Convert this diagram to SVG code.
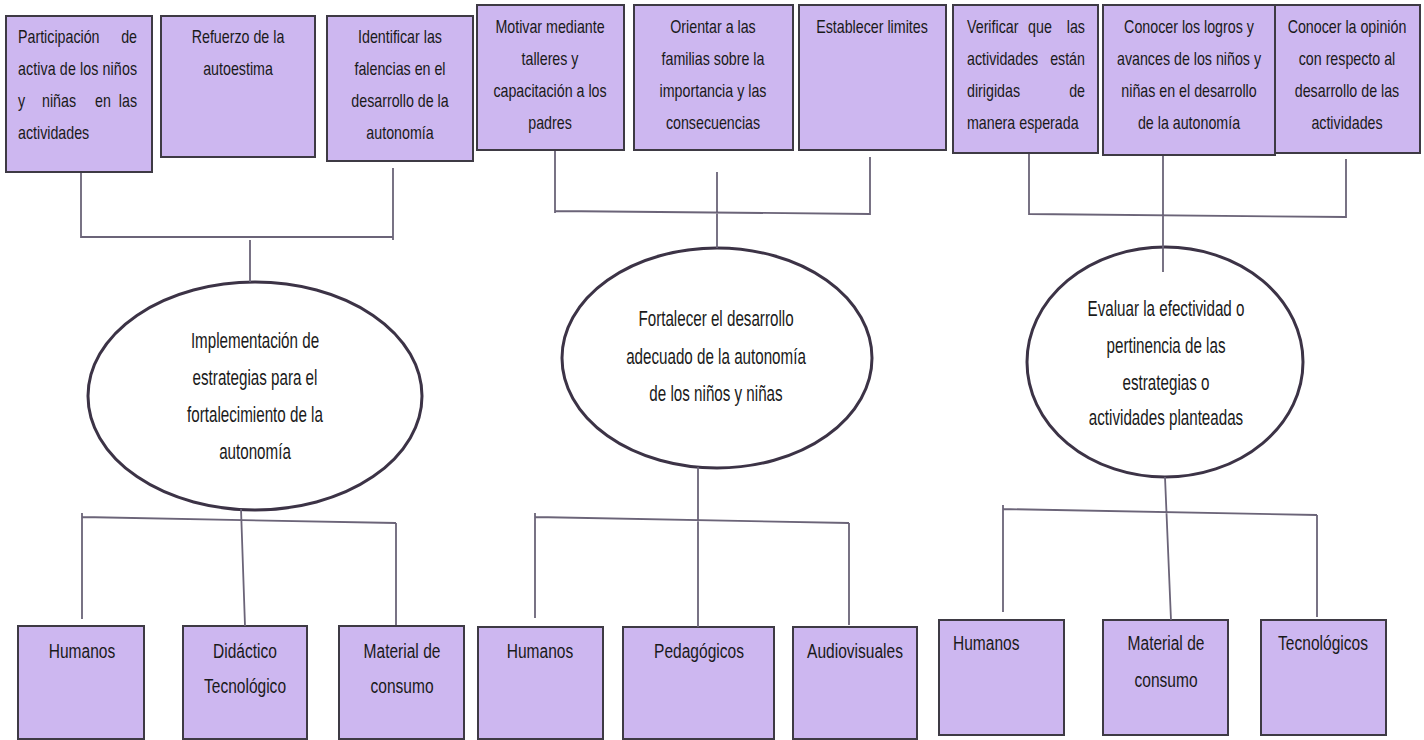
<svg xmlns="http://www.w3.org/2000/svg" width="1424" height="740" viewBox="0 0 1424 740">
<style>
.box{fill:#cdb7f0;stroke:#3e3a44;stroke-width:2}
.ell{fill:#ffffff;stroke:#3c3346;stroke-width:3}
.t{font-family:"Liberation Sans",Arial,sans-serif;font-size:19px;fill:#1a1a1a}
.e{font-family:"Liberation Sans",Arial,sans-serif;font-size:22px;fill:#1a1a1a;text-anchor:middle}
.b{font-family:"Liberation Sans",Arial,sans-serif;font-size:21px;fill:#1a1a1a}
.m{text-anchor:middle}
.s{text-anchor:start}
.r{text-anchor:end}
.c{fill:none;stroke:#6b6478;stroke-width:1.8}
</style>
<rect width="1424" height="740" fill="#ffffff"/>

<!-- top boxes -->
<g id="n1">
<rect class="box" x="6" y="16" width="146" height="156"/>
<g transform="matrix(0.75 0 0 1 18 0)" class="t">
<text class="s" x="0" y="43">Participación</text><text class="r" x="158.7" y="43">de</text>
<text class="s" x="0" y="75" textLength="158.7" lengthAdjust="spacing">activa de los niños</text>
<text class="s" x="0" y="107">y</text><text class="m" x="54.7" y="107">niñas</text><text class="m" x="113.3" y="107">en</text><text class="r" x="158.7" y="107">las</text>
<text class="s" x="0" y="139">actividades</text>
</g>
</g>
<g id="n2">
<rect class="box" x="161" y="16" width="154" height="141"/>
<g transform="matrix(0.75 0 0 1 238 0)" class="t m">
<text x="0" y="43">Refuerzo de la</text>
<text x="0" y="75">autoestima</text>
</g>
</g>
<g id="n3">
<rect class="box" x="327" y="16" width="146" height="145"/>
<g transform="matrix(0.75 0 0 1 400 0)" class="t m">
<text x="0" y="43">Identificar las</text>
<text x="0" y="75">falencias en el</text>
<text x="0" y="107">desarrollo de la</text>
<text x="0" y="139">autonomía</text>
</g>
</g>
<g id="n4">
<rect class="box" x="477" y="5" width="147" height="145"/>
<g transform="matrix(0.75 0 0 1 550 0)" class="t m">
<text x="0" y="33">Motivar mediante</text>
<text x="0" y="65">talleres y</text>
<text x="0" y="97">capacitación a los</text>
<text x="0" y="129">padres</text>
</g>
</g>
<g id="n5">
<rect class="box" x="634" y="5" width="159" height="145"/>
<g transform="matrix(0.75 0 0 1 713 0)" class="t m">
<text x="0" y="33">Orientar a las</text>
<text x="0" y="65">familias sobre la</text>
<text x="0" y="97">importancia y las</text>
<text x="0" y="129">consecuencias</text>
</g>
</g>
<g id="n6">
<rect class="box" x="799" y="5" width="147" height="145"/>
<g transform="matrix(0.75 0 0 1 872 0)" class="t m">
<text x="0" y="33">Establecer limites</text>
</g>
</g>
<g id="n7">
<rect class="box" x="953" y="5" width="145" height="148"/>
<g transform="matrix(0.75 0 0 1 967 0)" class="t">
<text class="s" x="0" y="33">Verificar</text><text class="m" x="97.3" y="33">que</text><text class="r" x="157.3" y="33">las</text>
<text class="s" x="0" y="65">actividades</text><text class="r" x="157.3" y="65">están</text>
<text class="s" x="0" y="97">dirigidas</text><text class="r" x="157.3" y="97">de</text>
<text class="s" x="0" y="129">manera esperada</text>
</g>
</g>
<g id="n8">
<rect class="box" x="1103" y="5" width="172" height="150"/>
<g transform="matrix(0.75 0 0 1 1189 0)" class="t m">
<text x="0" y="33">Conocer los logros y</text>
<text x="0" y="65">avances de los niños y</text>
<text x="0" y="97">niñas en el desarrollo</text>
<text x="0" y="129">de la autonomía</text>
</g>
</g>
<g id="n9">
<rect class="box" x="1275" y="5" width="145" height="148"/>
<g transform="matrix(0.75 0 0 1 1347 0)" class="t m">
<text x="0" y="33">Conocer la opinión</text>
<text x="0" y="65">con respecto al</text>
<text x="0" y="97">desarrollo de las</text>
<text x="0" y="129">actividades</text>
</g>
</g>

<!-- ellipses -->
<g id="e1">
<ellipse class="ell" cx="255" cy="396" rx="167" ry="114"/>
<g transform="matrix(0.69 0 0 1 255 0)" class="e">
<text x="0" y="348">Implementación de</text>
<text x="0" y="385">estrategias para el</text>
<text x="0" y="422">fortalecimiento de la</text>
<text x="0" y="459">autonomía</text>
</g>
</g>
<g id="e2">
<ellipse class="ell" cx="717" cy="358" rx="155" ry="110"/>
<g transform="matrix(0.69 0 0 1 716 0)" class="e">
<text x="0" y="326">Fortalecer el desarrollo</text>
<text x="0" y="364">adecuado de la autonomía</text>
<text x="0" y="401">de los niños y niñas</text>
</g>
</g>
<g id="e3">
<ellipse class="ell" cx="1165" cy="362" rx="138" ry="115"/>
<g transform="matrix(0.69 0 0 1 1166 0)" class="e">
<text x="0" y="316">Evaluar la efectividad o</text>
<text x="0" y="353">pertinencia de las</text>
<text x="0" y="390">estrategias o</text>
<text x="0" y="425">actividades planteadas</text>
</g>
</g>

<!-- bottom boxes -->
<g id="b1">
<rect class="box" x="18" y="626" width="126" height="113"/>
<g transform="matrix(0.74 0 0 1 82 0)" class="b m"><text x="0" y="658">Humanos</text></g>
</g>
<g id="b2">
<rect class="box" x="183" y="626" width="124" height="113"/>
<g transform="matrix(0.74 0 0 1 245 0)" class="b m"><text x="0" y="658">Didáctico</text><text x="0" y="693">Tecnológico</text></g>
</g>
<g id="b3">
<rect class="box" x="339" y="626" width="125" height="113"/>
<g transform="matrix(0.74 0 0 1 402 0)" class="b m"><text x="0" y="658">Material de</text><text x="0" y="693">consumo</text></g>
</g>
<g id="b4">
<rect class="box" x="478" y="627" width="125" height="112"/>
<g transform="matrix(0.74 0 0 1 540 0)" class="b m"><text x="0" y="658">Humanos</text></g>
</g>
<g id="b5">
<rect class="box" x="623" y="627" width="151" height="112"/>
<g transform="matrix(0.74 0 0 1 699 0)" class="b m"><text x="0" y="658">Pedagógicos</text></g>
</g>
<g id="b6">
<rect class="box" x="793" y="627" width="124" height="112"/>
<g transform="matrix(0.74 0 0 1 855 0)" class="b m"><text x="0" y="658">Audiovisuales</text></g>
</g>
<g id="b7">
<rect class="box" x="939" y="620" width="125" height="115"/>
<g transform="matrix(0.74 0 0 1 953 0)" class="b s"><text x="0" y="650">Humanos</text></g>
</g>
<g id="b8">
<rect class="box" x="1103" y="620" width="125" height="115"/>
<g transform="matrix(0.74 0 0 1 1166 0)" class="b m"><text x="0" y="650">Material de</text><text x="0" y="687">consumo</text></g>
</g>
<g id="b9">
<rect class="box" x="1261" y="620" width="125" height="115"/>
<g transform="matrix(0.74 0 0 1 1323 0)" class="b m"><text x="0" y="650">Tecnológicos</text></g>
</g>

<!-- connectors -->
<g id="connectors" class="c">
<path d="M81 173 V238 M393 168 V240 M81 237 H393 M250 240 V282"/>
<path d="M555 151 V213 M870 157 V215 M555 211 L870 214 M717 172 V248"/>
<path d="M1029 154 V215 M1346 159 V218 M1029 214 L1346 217 M1163 156 V272"/>
<path d="M82 513 V619 M82 517 L396 523 M396 523 V625 M241 509 L245 626"/>
<path d="M535 513 V618 M535 517 L849 523 M849 523 V625 M698 467 V627"/>
<path d="M1003 505 V612 M1003 509 L1317 515 M1317 515 V617 M1165 477 L1171 620"/>
</g>
</svg>
